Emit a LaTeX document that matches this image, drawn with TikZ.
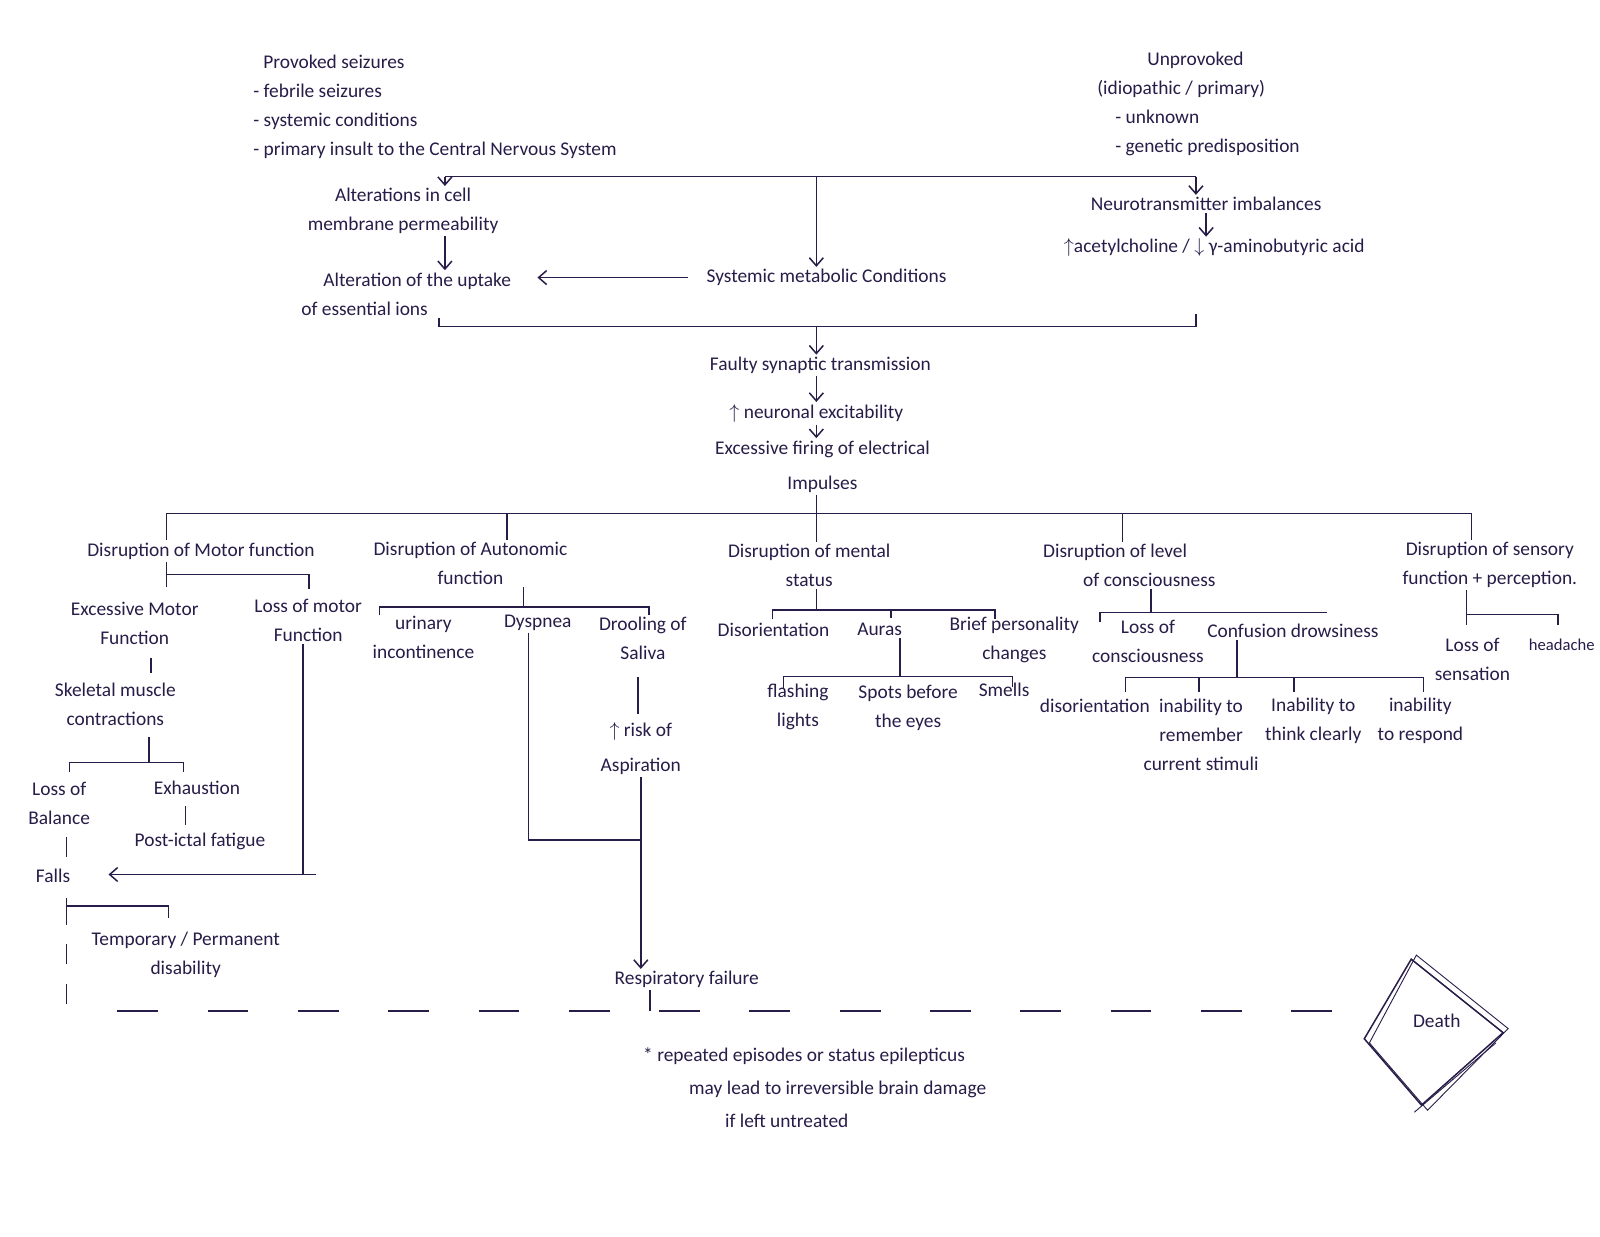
\documentclass[tikz,border=0pt]{standalone}
\usepackage{fontspec}
\setmainfont{Carlito}
\usetikzlibrary{arrows.meta}
\definecolor{ink}{RGB}{40,28,72}
\begin{document}
\begin{tikzpicture}[x=0.5102pt,y=-0.5102pt,
  txt/.style={text=ink,font=\fontsize{9.7}{14.5}\selectfont,align=center,inner sep=1pt},
  txl/.style={txt,align=left,anchor=west},
  ln/.style={draw=ink,line width=0.75pt},
  arr/.style={ln,-{Straight Barb[length=4pt,width=7pt]}},
  dshh/.style={ln,dash pattern=on 20.4pt off 24.75pt},
  dshv/.style={ln,dash pattern=on 10pt off 10pt}]
\useasboundingbox (0,0) rectangle (1568,1211.3);
\fill[white] (0,0) rectangle (1568,1211.3);
\clip (0,0) rectangle (1568,1211.3);

% ---------- top causes ----------
\node[txl] (prov) at (246,105) {\hspace*{5pt}Provoked seizures\\- febrile seizures\\- systemic conditions\\- primary insult to the Central Nervous System};
\node[txl] (unprov) at (1073,102) {\hspace*{25pt}Unprovoked\\(idiopathic / primary)\\\hspace*{9pt}- unknown\\\hspace*{9pt}- genetic predisposition};

\node[txt] (alt) at (395,207) {Alterations in cell\\membrane permeability};
\node[txl] (upt) at (293,288) {\hspace*{11pt}Alteration of the uptake\\of essential ions};
\node[txt] (sys) at (810,272) {Systemic metabolic Conditions};
\node[txt] (neu) at (1182,200) {Neurotransmitter imbalances};
\node[txt] (ach) at (1190,243) {$\uparrow$acetylcholine / $\downarrow$ γ-aminobutyric acid};

\coordinate (tl) at (436,173);
\coordinate (tm) at (800,173);
\coordinate (tr) at (1172,173);
\draw[ln] (tl) -- (tr);
\draw[arr] (tl) -- (tl |- alt.north);
\draw[arr] (tm) -- (tm |- sys.north);
\draw[arr] (tr) -- (tr |- neu.north);
\draw[arr] (tl |- alt.south) -- (tl |- upt.north);
\draw[arr,shorten <=8pt,shorten >=12pt] (sys.west) -- (upt.east |- sys.west);
\draw[arr] (neu.south) -- (neu.south |- ach.north);

% ---------- central chain ----------
\node[txt] (fts) at (804,358) {Faulty synaptic transmission};
\node[txt] (neur) at (800,405) {$\uparrow$ neuronal excitability};
\node[txt] (exc) at (806,457) {Excessive firing of electrical\\[3pt]Impulses};

\coordinate (bl) at (430,320);
\coordinate (bm) at (800,320);
\coordinate (br) at (1172,320);
\coordinate (brt) at (1172,308);
\draw[ln] (bl |- upt.south) -- (bl) -- (br) -- (brt);
\draw[arr] (bm) -- (bm |- fts.north);
\draw[arr] (bm |- fts.south) -- (bm |- neur.north);
\draw[arr] (bm |- neur.south) -- (bm |- exc.north);

% ---------- main branches ----------
\node[txt] (dmot) at (197,540) {Disruption of Motor function};
\node[txt] (daut) at (461,552) {Disruption of Autonomic\\function};
\node[txt] (dmen) at (793,554) {Disruption of mental\\status};
\node[txl] (dcon) at (1020,554) {Disruption of level\\\hspace*{20pt}of consciousness};
\node[txt] (dsen) at (1460,554) {Disruption of sensory\\function + perception.};

\coordinate (m1) at (163,503);
\coordinate (m2) at (497,503);
\coordinate (m3) at (800,503);
\coordinate (m4) at (1100,503);
\coordinate (m5) at (1442,503);
\draw[ln] (m3 |- exc.south) -- (m3);
\draw[ln] (m1) -- (m5);
\draw[ln] (m1) -- (m1 |- dmot.north);
\draw[ln] (m2) -- (m2 |- daut.north);
\draw[ln] (m3) -- (m3 |- dmen.north);
\draw[ln] (m4) -- (m4 |- dcon.north);
\draw[ln] (m5) -- (m5 |- dsen.north);

% ---------- motor ----------
\node[txt] (exm) at (132,611) {Excessive Motor\\Function};
\node[txt] (lom) at (302,608) {Loss of motor\\Function};
\node[txt] (skel) at (113,690) {Skeletal muscle\\contractions};
\node[txt] (lob) at (58,787) {Loss of\\Balance};
\node[txt] (exh) at (193,772) {Exhaustion};
\node[txt] (pif) at (196,825) {Post-ictal fatigue};
\node[txt] (falls) at (52,858) {Falls};
\node[txt] (tpd) at (182,936) {Temporary / Permanent\\disability};

\coordinate (mo1) at (163,563);
\coordinate (mo2) at (303,563);
\draw[ln] (mo1 |- dmot.south) -- (163,575);
\draw[ln] (mo1) -- (mo2) -- (303,577);
\coordinate (ex1) at (148,645);
\draw[ln] (ex1) -- (148,660);
\coordinate (sk1) at (146,747);
\draw[ln] (146,722) -- (sk1);
\draw[ln] (68,757) -- (68,747) -- (180,747) -- (180,757);
\draw[ln] (182,790) -- (182,808);
\draw[ln] (65,820) -- (65,840);
\coordinate (lm1) at (297,857);
\coordinate (lm2) at (310,857);
\draw[ln] (lm1 |- lom.south) -- (lm1) -- (lm2);
\draw[arr,shorten >=18pt] (lm1) -- (falls.east |- lm1);
\coordinate (fa1) at (65,888);
\draw[ln] (65,880) -- (65,906);
\draw[ln] (fa1) -- (165,888) -- (165,900);
\draw[dshv] (65,925) -- (65,988);

% ---------- autonomic ----------
\node[txt] (uri) at (415,625) {urinary\\incontinence};
\node[txt] (dys) at (527,610) {Dyspnea};
\node[txt] (dro) at (630,626) {Drooling of\\Saliva};
\node[txt] (ris) at (628,734) {$\uparrow$ risk of\\[3pt]Aspiration};
\node[txt] (resp) at (673,960) {Respiratory failure};

\coordinate (au1) at (513,595);
\draw[ln] (au1 |- daut.south) -- (au1);
\draw[ln] (372,603) -- (372,595) -- (636,595) -- (636,603);
\coordinate (dy1) at (518,823);
\coordinate (dy2) at (628,823);
\draw[ln] (dy1 |- dys.south) -- (dy1) -- (dy2);
\draw[ln] (625,663) -- (625,700);
\draw[arr] (dy2 |- ris.south) -- (dy2 |- resp.north);
\coordinate (rf1) at (637,991);
\draw[ln] (rf1 |- resp.south) -- (rf1);

% ---------- mental ----------
\node[txt] (dis) at (758,617) {Disorientation};
\node[txt] (aur) at (862,617) {Auras};
\node[txt] (bpc) at (994,627) {Brief personality\\changes};
\node[txt] (fla) at (782,693) {flashing\\lights};
\node[txt] (spo) at (890,694) {Spots before\\the eyes};
\node[txt] (sme) at (984,676) {Smells};

\coordinate (me1) at (800,598);
\draw[ln] (me1 |- dmen.south) -- (me1);
\draw[ln] (757,607) -- (757,598) -- (975,598) -- (975,607);
\draw[ln] (873,598) -- (873,606);
\coordinate (au2) at (882,663);
\draw[ln] (au2 |- aur.south) -- (au2);
\draw[ln] (768,675) -- (768,663) -- (992,663) -- (992,673);

% ---------- consciousness ----------
\node[txt] (loc) at (1125,629) {Loss of\\consciousness};
\node[txt] (conf) at (1222,618) {Confusion};
\node[txt] (drow) at (1308,618) {drowsiness};
\node[txt] (cdis) at (1073,692) {disorientation};
\node[txt] (crem) at (1177,720) {inability to\\remember\\current stimuli};
\node[txt] (cthi) at (1287,706) {Inability to\\think clearly};
\node[txt] (cres) at (1392,706) {inability\\to respond};

\coordinate (co1) at (1128,600);
\draw[ln] (co1 |- dcon.south) -- (co1);
\draw[ln] (1078,610) -- (1078,600) -- (1300,600);
\coordinate (co2) at (1212,664);
\draw[ln] (co2 |- conf.south) -- (co2);
\draw[ln] (1103,678) -- (1103,664) -- (1395,664) -- (1395,678);
\draw[ln] (1175,664) -- (1175,678);
\draw[ln] (1268,664) -- (1268,678);

% ---------- sensory ----------
\node[txt] (los) at (1443,646) {Loss of\\sensation};
\node[txt,anchor=west,font=\fontsize{8.3}{12}\selectfont] (hea) at (1496,632) {headache};
\coordinate (se1) at (1437,602);
\draw[ln] (se1 |- dsen.south) -- (1437,612);
\draw[ln] (se1) -- (1527,602) -- (1527,612);

% ---------- bottom ----------
\draw[dshh] (115,991) -- (1305,991);
\node[txt] (death) at (1408,1000) {Death};
\draw[ln] (1383,940) -- (1473,1012) -- (1393,1083) -- (1337,1018) -- cycle;
\draw[ln,line width=0.45pt] (1388,936) -- (1478,1008) -- (1399,1088) -- (1342,1022) -- cycle;
\draw[ln,line width=0.45pt] (1466,1022) -- (1386,1090);
\node[txl] (note) at (628,1066) {* repeated episodes or status epilepticus\\[2pt]\hspace*{23pt}may lead to irreversible brain damage\\[2pt]\hspace*{41pt}if left untreated};
\end{tikzpicture}
\end{document}
